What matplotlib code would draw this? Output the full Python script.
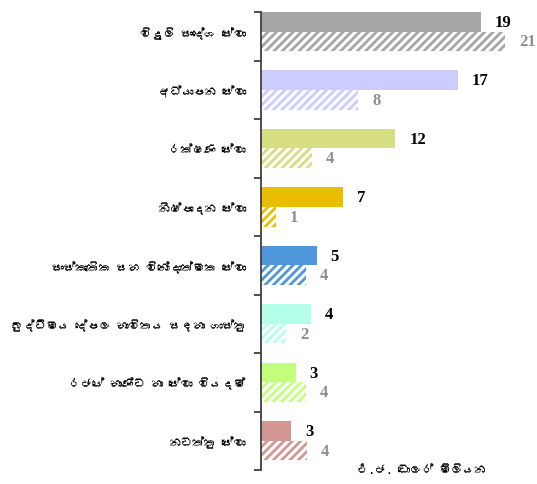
import numpy as np
import matplotlib
matplotlib.use("Agg")
import matplotlib.pyplot as plt
from matplotlib import font_manager
from matplotlib.ft2font import FT2Font

categories = ["විදුලි සංදේශ සේවා", "අධ්‍යාපන සේවා", "රක්ෂණ සේවා", "නිෂ්පාදන සේවා",
              "සංස්කෘතික සහ විනෝදාත්මක සේවා", "බුද්ධිමය දේපල භාවිතය සඳහා ගාස්තු",
              "රජයේ භාණ්ඩ හා සේවා වියදම්", "නඩත්තු සේවා"]
current = [19.0, 17.0, 11.6, 7.1, 4.8, 4.3, 3.0, 2.6]
previous = [21.1, 8.4, 4.4, 1.3, 3.9, 2.2, 3.9, 4.0]
colors = ["#A6A6A6", "#CCCCFF", "#D6DE84", "#EABE00", "#4F96DB", "#B3FFEA", "#C1FF7D", "#D49693"]
xlabel = "එ.ජ. ඩොලර් මිලියන"


def sinhala_font():
    # first installed font that covers the Sinhala block
    for f in font_manager.fontManager.ttflist:
        try:
            cmap = FT2Font(f.fname).get_charmap()
        except Exception:
            continue
        if 0x0DC3 in cmap and 0x0DCF in cmap:
            return f.name
    return "DejaVu Sans"


def clean(s):
    # no shaping engine here, so drop the zero-width joiner
    return s.replace("\u200d", "")


si_font = sinhala_font()
plt.rcParams["hatch.linewidth"] = 2.0

fig = plt.figure(figsize=(5.37, 4.85), dpi=100)
h = 0.335
top = -h
ax = fig.add_axes([261 / 537, 1 - 471 / 485, 1 - 261 / 537, (471 - 13) / 485])

y = np.arange(len(categories))
ax.barh(y - h / 2, current, height=h, color=colors, linewidth=0)
ax.barh(y + h / 2, previous, height=h, color="white", edgecolor=colors,
        hatch="////", linewidth=0)

for yi, c, p in zip(y, current, previous):
    ax.text(c + 1.2, yi - h / 2, f"{c:.0f}", va="center", ha="left",
            fontsize=12, fontweight="bold", family="Liberation Serif", color="black")
    ax.text(p + 1.2, yi + h / 2, f"{p:.0f}", va="center", ha="left",
            fontsize=12, fontweight="bold", family="Liberation Serif", color="#8E8E8E")

ax.set_ylim(len(categories) - 0.5, top)
ax.set_xlim(0, (537 - 261) / 11.58)

ax.set_yticks(y)
ax.set_yticklabels([clean(c) for c in categories], family=si_font, fontsize=8.5)
ax.tick_params(axis="y", which="major", length=0, pad=11)
ax.set_yticks([top] + list(np.arange(len(categories)) + 0.5), minor=True)
ax.tick_params(axis="y", which="minor", length=5, width=1.3, color="#404040", direction="out")

for s in ["top", "right", "bottom"]:
    ax.spines[s].set_visible(False)
ax.spines["left"].set_color("#404040")
ax.spines["left"].set_linewidth(1.3)
ax.set_xticks([])

fig.text(422 / 537, 1 - 470 / 485, clean(xlabel), family=si_font, fontsize=8.5,
         ha="center", va="center")

fig.savefig("out.png", dpi=100)
